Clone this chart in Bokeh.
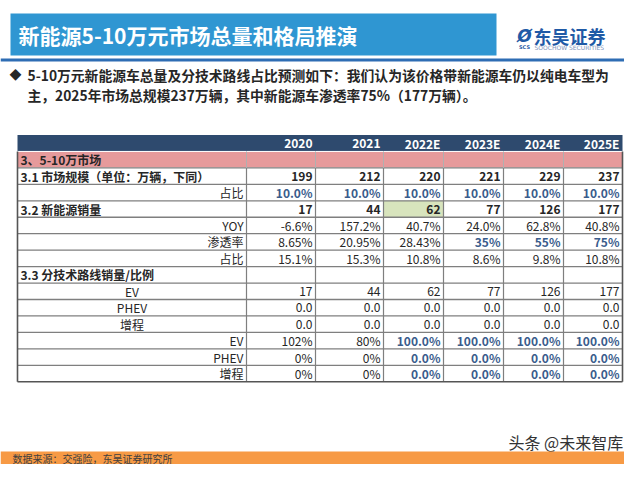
from bokeh.plotting import figure
from bokeh.models import ColumnDataSource, Range1d
from bokeh.embed import file_html
from bokeh.resources import INLINE
from bokeh.core.properties import value

# ---------------- data ----------------
years = ["2020", "2021", "2022E", "2023E", "2024E", "2025E"]
market_size = [199, 212, 220, 221, 229, 237]
market_share = [10.0, 10.0, 10.0, 10.0, 10.0, 10.0]
nev_sales = [17, 44, 62, 77, 126, 177]
nev_yoy = [-6.6, 157.2, 40.7, 24.0, 62.8, 40.8]
nev_penetration = [8.65, 20.95, 28.43, 35, 55, 75]
nev_share = [15.1, 15.3, 10.8, 8.6, 9.8, 10.8]
ev_sales = [17, 44, 62, 77, 126, 177]
phev_sales = [0.0, 0.0, 0.0, 0.0, 0.0, 0.0]
erev_sales = [0.0, 0.0, 0.0, 0.0, 0.0, 0.0]
ev_ratio = [102, 80, 100.0, 100.0, 100.0, 100.0]
phev_ratio = [0, 0, 0.0, 0.0, 0.0, 0.0]
erev_ratio = [0, 0, 0.0, 0.0, 0.0, 0.0]

title_text = "新能源5-10万元市场总量和格局推演"
bullet_lines = [
    "5-10万元新能源车总量及分技术路线占比预测如下：我们认为该价格带新能源车仍以纯电车型为",
    "主，2025年市场总规模237万辆，其中新能源车渗透率75%（177万辆）。",
]
source_text = "数据来源：交强险，东吴证券研究所"
watermark = "头条 @未来智库"

# ---------------- styles ----------------
FONT = "Noto Sans CJK SC"
DARK = "#262626"
BLUE_V = "#3A5C8C"
NAVY = "#2E4A6E"
PINK = "#E69A9B"
GREEN = "#D8E4BD"
GRID = "#7F7F7F"

# row spec: label, label align, label bold, values, fmt normal, fmt forecast,
#           style normal, style forecast, first forecast-styled column
rows = [
    ("3、5-10万市场", "left", True, None, None, None, None, None, 0),
    ("3.1 市场规模（单位：万辆，下同）", "left", True, market_size, "{:.0f}", "{:.0f}", "bold", "bold", 0),
    ("占比", "right", False, market_share, "{:.1f}%", "{:.1f}%", "bluebold", "bluebold", 0),
    ("3.2 新能源销量", "left", True, nev_sales, "{:.0f}", "{:.0f}", "bold", "bold", 0),
    ("YOY", "right", False, nev_yoy, "{:.1f}%", "{:.1f}%", "normal", "normal", 0),
    ("渗透率", "right", False, nev_penetration, "{:.2f}%", "{:.0f}%", "normal", "bluebold", 3),
    ("占比", "right", False, nev_share, "{:.1f}%", "{:.1f}%", "normal", "normal", 0),
    ("3.3 分技术路线销量/比例", "left", True, None, None, None, None, None, 0),
    ("EV", "center", False, ev_sales, "{:.0f}", "{:.0f}", "normal", "normal", 0),
    ("PHEV", "center", False, phev_sales, "{:.1f}", "{:.1f}", "normal", "normal", 0),
    ("增程", "center", False, erev_sales, "{:.1f}", "{:.1f}", "normal", "normal", 0),
    ("EV", "right", False, ev_ratio, "{:.0f}%", "{:.1f}%", "normal", "bluebold", 2),
    ("PHEV", "right", False, phev_ratio, "{:.0f}%", "{:.1f}%", "normal", "bluebold", 2),
    ("增程", "right", False, erev_ratio, "{:.0f}%", "{:.1f}%", "normal", "bluebold", 2),
]

# ---------------- layout ----------------
W, H = 624, 464
col_edges = [17, 246, 315, 383, 443, 503, 563, 622]
table_top = 134.5
row_h = 16.45

def row_top(i):  # i = -1 header
    return table_top + (i + 1) * row_h

p = figure(width=W, height=H, x_range=Range1d(0, W), y_range=Range1d(H, 0),
           x_axis_type=None, y_axis_type=None, output_backend="svg",
           toolbar_location=None, min_border=0, outline_line_color=None)
p.grid.visible = False
p.background_fill_color = "white"

# title bar & logo
p.quad(left=[10], right=[496], top=[13], bottom=[55], fill_color="#2F96D2", line_color=None)
p.text(x=[18], y=[34.5], text=[title_text], text_font=value(FONT), text_font_size="21px",
       text_font_style="bold", text_color="white", text_baseline="middle")
p.segment(x0=[0], y0=[59.5], x1=[W], y1=[59.5], line_color="#2E6DB4", line_width=3)
p.text(x=[524], y=[35], text=["Ø"], text_font=value("DejaVu Sans"), text_font_size="17px",
       text_font_style="bold italic", text_color="#1F5AA6", text_baseline="middle", text_align="center")
p.text(x=[524], y=[46], text=["SCS"], text_font=value("DejaVu Sans"), text_font_size="5px",
       text_font_style="bold", text_color="#1F5AA6", text_baseline="middle", text_align="center")
p.text(x=[533], y=[35], text=["东吴证券"], text_font=value(FONT), text_font_size="18px",
       text_font_style="bold", text_color="#1F5AA6", text_baseline="middle")
p.text(x=[534], y=[47], text=["SOOCHOW SECURITIES"], text_font=value("DejaVu Sans"),
       text_font_size="6px", text_color="#7F93BA", text_baseline="middle")

# bullet text
p.text(x=[15], y=[74], text=["◆"], text_font=value(FONT), text_font_size="12px",
       text_color=DARK, text_align="center", text_baseline="middle")
p.text(x=[27, 27], y=[74, 94], text=bullet_lines, text_font=value(FONT), text_font_size="13.8px",
       text_font_style="bold", text_color=DARK, text_baseline="middle")

# ---------------- table fills ----------------
p.quad(left=[col_edges[0]], right=[col_edges[-1]], top=[row_top(-1)], bottom=[row_top(0)],
       fill_color=NAVY, line_color=None)
pink_l, pink_r = col_edges[:-1], col_edges[1:]
p.quad(left=pink_l, right=pink_r, top=[row_top(0)] * len(pink_l), bottom=[row_top(1)] * len(pink_l),
       fill_color=PINK, line_color="white", line_width=1)
hi_col = years.index("2022E") + 1
p.quad(left=[col_edges[hi_col]], right=[col_edges[hi_col + 1]], top=[row_top(3)], bottom=[row_top(4)],
       fill_color=GREEN, line_color=None)

# grid lines
hx0, hy, hx1 = [], [], []
for i in range(1, len(rows)):
    hx0.append(col_edges[0]); hx1.append(col_edges[-1]); hy.append(row_top(i))
p.segment(x0=hx0, y0=hy, x1=hx1, y1=hy, line_color=GRID, line_width=1.3)
vx = col_edges[1:-1]
p.segment(x0=vx, y0=[row_top(1)] * len(vx), x1=vx, y1=[row_top(len(rows))] * len(vx),
          line_color=GRID, line_width=1.2)
p.segment(x0=vx, y0=[row_top(0)] * len(vx), x1=vx, y1=[row_top(1)] * len(vx),
          line_color="#B0B0B0", line_width=1)
bl, br, bt, bb = col_edges[0], col_edges[-1], row_top(0), row_top(len(rows))
p.segment(x0=[bl, br, bl], y0=[bt, bt, bb], x1=[bl, br, br], y1=[bb, bb, bb],
          line_color="#555555", line_width=1.6)

# ---------------- table texts ----------------
tx, ty, tt, tc, ts, ta = [], [], [], [], [], []
for j, yr in enumerate(years):
    tx.append(col_edges[j + 2] - 3); ty.append(row_top(-1) + row_h / 2); tt.append(yr)
    tc.append("white"); ts.append("bold"); ta.append("right")
for i, (lab, al, lb, vals, fa, fe, sa, se, fstart) in enumerate(rows):
    cy = row_top(i) + row_h / 2
    if al == "left":
        lx = col_edges[0] + 3
    elif al == "right":
        lx = col_edges[1] - 3
    else:
        lx = (col_edges[0] + col_edges[1]) / 2
    tx.append(lx); ty.append(cy); tt.append(lab); tc.append(DARK)
    ts.append("bold" if lb else "normal"); ta.append(al)
    if vals is None:
        continue
    for j, v in enumerate(vals):
        fc = j >= fstart and years[j].endswith("E")
        fmt, sty = (fe, se) if fc else (fa, sa)
        tx.append(col_edges[j + 2] - 3); ty.append(cy); tt.append(fmt.format(v))
        tc.append(BLUE_V if sty == "bluebold" else DARK)
        ts.append("normal" if sty == "normal" else "bold")
        ta.append("right")

src = ColumnDataSource(dict(x=tx, y=ty, text=tt, color=tc, style=ts, align=ta))
p.text(x="x", y="y", text="text", source=src, text_color="color", text_font_style="style",
       text_align="align", text_baseline="middle", text_font=value(FONT), text_font_size="12px")

# ---------------- footer ----------------
p.text(x=[508], y=[441], text=[watermark], text_font=value(FONT), text_font_size="16px",
       text_color="#333333", text_baseline="middle")
p.quad(left=[0], right=[W], top=[451], bottom=[H], fill_color="#F79A45", line_color=None)
p.text(x=[12], y=[457.5], text=[source_text], text_font=value(FONT), text_font_size="10px",
       text_color="#404040", text_baseline="middle")

open("out.html", "w").write(file_html(p, INLINE))
